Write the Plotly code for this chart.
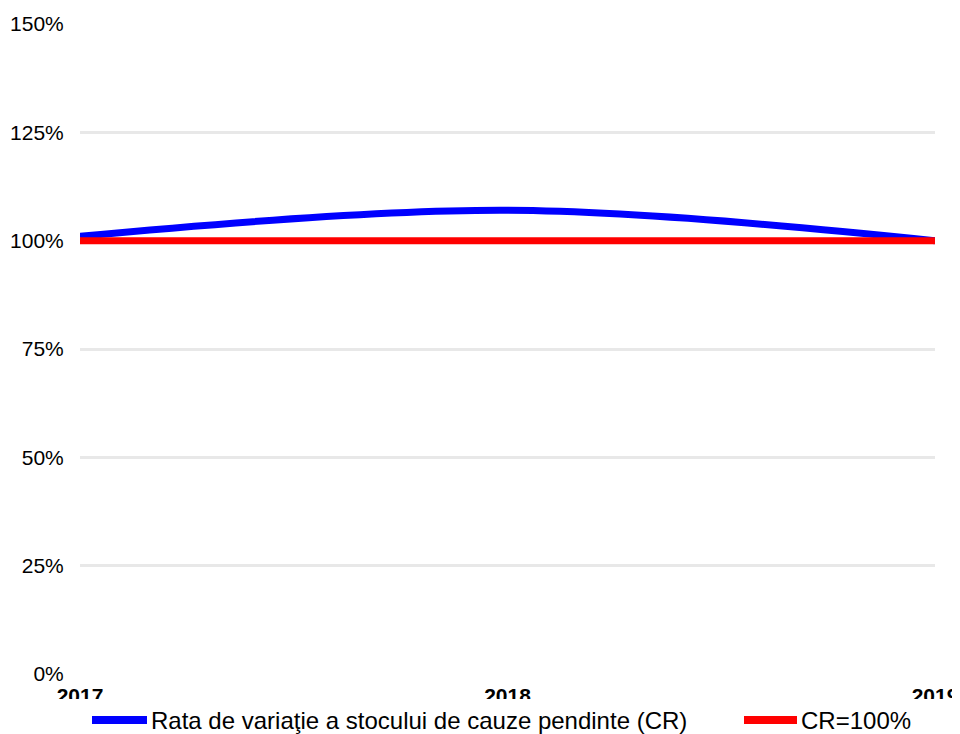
import plotly.graph_objects as go

years = [2017, 2018, 2019]
cr_values = [101, 107, 100]
cr_ref = [100, 100, 100]
year_labels = ["2017", "2018", "2019"]
y_ticks = [0, 25, 50, 75, 100, 125, 150]
y_tick_labels = ["0%", "25%", "50%", "75%", "100%", "125%", "150%"]
series_names = ["Rata de variaţie a stocului de cauze pendinte (CR)", "CR=100%"]
series_colors = ["#0000FF", "#FF0000"]

# the page body adds an 8px offset, so the figure is laid out in shifted coordinates
OFF = 8
W, H = 960 - OFF, 734 - OFF
L, R, T, B = 80 - OFF, 25, 24 - OFF, 60
PW, PH = W - L - R, H - T - B

def px(x):  # screenshot x -> paper
    return (x - OFF - L) / PW

def py(y):  # screenshot y -> paper
    return (H - B - (y - OFF)) / PH

fig = go.Figure()
fig.add_trace(go.Scatter(
    x=years, y=cr_values, mode="lines",
    line=dict(color=series_colors[0], width=7, shape="spline", smoothing=1.0),
    name=series_names[0], showlegend=False))
fig.add_trace(go.Scatter(
    x=years, y=cr_ref, mode="lines",
    line=dict(color=series_colors[1], width=7),
    name=series_names[1], showlegend=False))

# cover the lower part of the year labels (as in the reference)
shapes = [dict(type="rect", xref="paper", yref="paper", x0=px(-20), x1=px(980),
               y0=py(760), y1=py(699), fillcolor="white", line=dict(width=0),
               layer="above")]
annotations = []
legend_items = [(92, 147, 149), (744, 797, 799)]
ly = 720
for (a, b, tx), name, col in zip(legend_items, series_names, series_colors):
    shapes.append(dict(type="line", xref="paper", yref="paper", x0=px(a), x1=px(b),
                       y0=py(ly), y1=py(ly), line=dict(color=col, width=8), layer="above"))
    annotations.append(dict(xref="paper", yref="paper", x=px(tx), y=py(ly),
                            xanchor="left", yanchor="middle", showarrow=False,
                            text=name, font=dict(size=24, color="black")))

fig.update_layout(
    width=W, height=H,
    margin=dict(l=L, r=R, t=T, b=B, autoexpand=False),
    paper_bgcolor="white", plot_bgcolor="white",
    font=dict(family="Liberation Sans, Arial, sans-serif", color="black"),
    showlegend=False,
    shapes=shapes, annotations=annotations,
)
fig.update_xaxes(range=[2017, 2019], tickvals=years, ticktext=year_labels,
                 tickfont=dict(size=21, family="Liberation Sans, Arial", weight="bold"),
                 showgrid=False, zeroline=False, showline=False, automargin=False,
                 ticks="outside", ticklen=3, tickcolor="white")
fig.update_yaxes(range=[0, 150], tickvals=y_ticks, ticktext=y_tick_labels,
                 tickfont=dict(size=21), showgrid=True, gridcolor="#E8E8E8", gridwidth=3,
                 zeroline=False, showline=False, automargin=False,
                 ticks="outside", ticklen=11, tickcolor="white")

fig.write_html("out.html")
